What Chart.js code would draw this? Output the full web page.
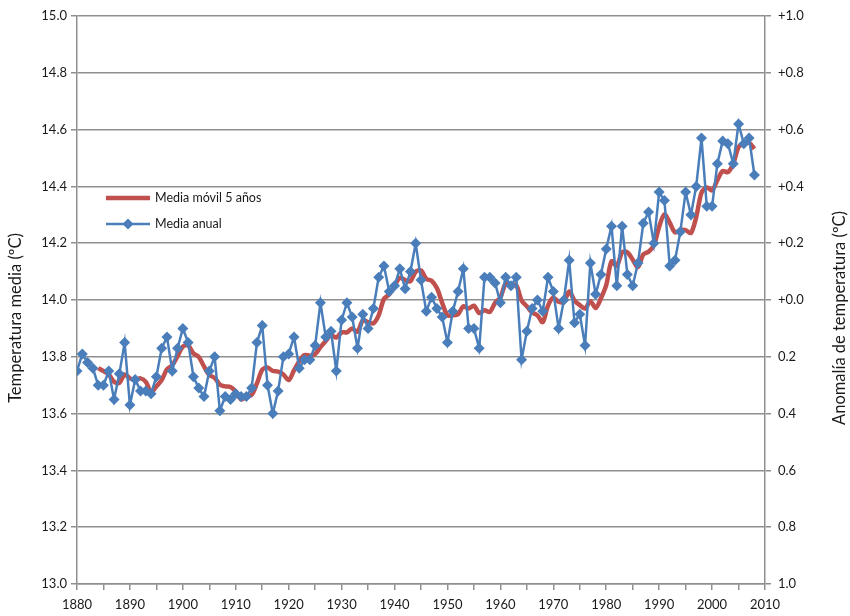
<!DOCTYPE html>
<html>
<head>
<meta charset="utf-8">
<script src="https://cdn.jsdelivr.net/npm/chart.js@4"></script>
<style>
html,body{margin:0;padding:0;background:#fff;}
#c{display:block;}
</style>
</head>
<body>
<canvas id="c" width="850" height="616"></canvas>
<script>
// ---- data ----
const firstYear = 1880;
const annualMean = [
 13.75,13.81,13.78,13.76,13.70,13.70,13.75,13.65,13.74,13.85, // 1880-1889
 13.63,13.72,13.68,13.68,13.67,13.73,13.83,13.87,13.75,13.83, // 1890-1899
 13.90,13.85,13.73,13.69,13.66,13.75,13.80,13.61,13.66,13.65, // 1900-1909
 13.67,13.66,13.66,13.69,13.85,13.91,13.70,13.60,13.68,13.80, // 1910-1919
 13.81,13.87,13.76,13.79,13.79,13.84,13.99,13.87,13.89,13.75, // 1920-1929
 13.93,13.99,13.94,13.83,13.95,13.90,13.97,14.08,14.12,14.03, // 1930-1939
 14.05,14.11,14.04,14.10,14.20,14.07,13.96,14.01,13.97,13.94, // 1940-1949
 13.85,13.96,14.03,14.11,13.90,13.90,13.83,14.08,14.08,14.06, // 1950-1959
 13.99,14.08,14.05,14.08,13.79,13.89,13.97,14.00,13.96,14.08, // 1960-1969
 14.03,13.90,14.00,14.14,13.92,13.95,13.84,14.13,14.02,14.09, // 1970-1979
 14.18,14.26,14.05,14.26,14.09,14.05,14.13,14.27,14.31,14.20, // 1980-1989
 14.38,14.35,14.12,14.14,14.24,14.38,14.30,14.40,14.57,14.33, // 1990-1999
 14.33,14.48,14.56,14.55,14.48,14.62,14.55,14.57,14.44        // 2000-2008
];
const years = annualMean.map((_, i) => firstYear + i);
const movingWindow = 5;
const seriesNames = ["Media móvil 5 años", "Media anual"];
const leftTitle = "Temperatura media (ºC)";
const rightTitle = "Anomalía de temperatura (ºC)";
const baseline = 14.0;

// trailing 5-year moving average (Excel-style trendline)
const movingAvg = [];
for (let i = movingWindow - 1; i < annualMean.length; i++) {
  let s = 0;
  for (let k = 0; k < movingWindow; k++) s += annualMean[i - k];
  movingAvg.push({x: years[i], y: s / movingWindow});
}
const annualPts = years.map((y, i) => ({x: y, y: annualMean[i]}));

const FONT = "Lato, 'Open Sans', sans-serif";
const GRID = '#8f8f8f';
const BLUE = '#4a7ebb';
const RED = '#c0504d';
const TXT = '#1a1a1a';

const decorPlugin = {
  id: 'decor',
  afterDraw(chart) {
    const ctx = chart.ctx;
    const ca = chart.chartArea;
    ctx.save();
    // axis titles, both reading bottom-to-top
    ctx.font = "16.5px " + FONT;
    ctx.fillStyle = TXT;
    ctx.textAlign = 'center';
    ctx.textBaseline = 'middle';
    const midY = 318;
    ctx.save(); ctx.translate(16, midY); ctx.rotate(-Math.PI / 2);
    ctx.fillText(leftTitle, 0, 0); ctx.restore();
    ctx.save(); ctx.translate(840, midY); ctx.rotate(-Math.PI / 2);
    ctx.fillText(rightTitle, 0, 0); ctx.restore();

    // legend inside plot
    ctx.textAlign = 'left';
    ctx.font = "12.5px " + FONT;
    ctx.strokeStyle = RED; ctx.lineWidth = 4.5; ctx.lineCap = 'butt';
    ctx.beginPath(); ctx.moveTo(106, 198); ctx.lineTo(150, 198); ctx.stroke();
    ctx.fillText(seriesNames[0], 155, 198);
    ctx.strokeStyle = BLUE; ctx.lineWidth = 2.5;
    ctx.beginPath(); ctx.moveTo(106, 224); ctx.lineTo(150, 224); ctx.stroke();
    ctx.fillStyle = BLUE;
    ctx.beginPath();
    ctx.moveTo(128, 218.5); ctx.lineTo(133.5, 224); ctx.lineTo(128, 229.5); ctx.lineTo(122.5, 224);
    ctx.closePath(); ctx.fill();
    ctx.fillStyle = TXT;
    ctx.fillText(seriesNames[1], 155, 224);
    ctx.restore();
  }
};

new Chart(document.getElementById('c'), {
  type: 'line',
  data: {
    datasets: [
      {
        label: seriesNames[1],
        data: annualPts,
        borderColor: BLUE,
        backgroundColor: BLUE,
        borderWidth: 2.5,
        pointStyle: 'rectRot',
        pointRadius: 5.5,
        pointBorderWidth: 0,
        pointBackgroundColor: BLUE,
        tension: 0,
        order: 0,
        yAxisID: 'y'
      },
      {
        label: seriesNames[0],
        data: movingAvg,
        borderColor: RED,
        borderWidth: 4.5,
        pointRadius: 0,
        tension: 0.3,
        order: 1,
        yAxisID: 'y'
      }
    ]
  },
  options: {
    responsive: false,
    animation: false,
    devicePixelRatio: 1,
    layout: {padding: {top: 16, left: 0, right: 0, bottom: 0}},
    plugins: {legend: {display: false}, tooltip: {enabled: false}},
    scales: {
      x: {
        type: 'linear',
        min: 1880, max: 2010,
        afterBuildTicks(scale) {
          const t = [];
          for (let v = 1880; v <= 2010; v += 5) t.push({value: v});
          scale.ticks = t;
        },
        afterFit(scale) { scale.height = 32; },
        ticks: {
          autoSkip: false, maxRotation: 0,
          font: {family: FONT, size: 13}, color: TXT, padding: 7,
          callback: v => (v % 10 === 0 ? String(v) : '')
        },
        grid: {drawOnChartArea: false, drawTicks: true, tickLength: 6, color: GRID, lineWidth: 1.5},
        border: {display: true, color: GRID, width: 1.5}
      },
      y: {
        position: 'left',
        min: 13.0, max: 15.0,
        afterFit(scale) { scale.width = 77; },
        ticks: {
          stepSize: 0.2,
          font: {family: FONT, size: 13}, color: TXT, padding: 4,
          callback: v => (Math.round(v * 10) / 10).toFixed(1)
        },
        grid: {color: GRID, lineWidth: 1.5, drawTicks: true, tickLength: 6},
        border: {display: true, color: GRID, width: 1.5}
      },
      y2: {
        position: 'right',
        min: 13.0 - baseline, max: 15.0 - baseline,
        afterFit(scale) { scale.width = 85; },
        ticks: {
          stepSize: 0.2,
          font: {family: FONT, size: 13}, color: TXT, padding: 7,
          callback: v => {
            const r = Math.round(v * 10) / 10;
            return r >= 0 ? '+' + r.toFixed(1) : Math.abs(r).toFixed(1);
          }
        },
        grid: {drawOnChartArea: false, drawTicks: true, tickLength: 6, color: GRID, lineWidth: 1.5},
        border: {display: true, color: GRID, width: 1.5}
      }
    }
  },
  plugins: [decorPlugin]
});
</script>
</body>
</html>
